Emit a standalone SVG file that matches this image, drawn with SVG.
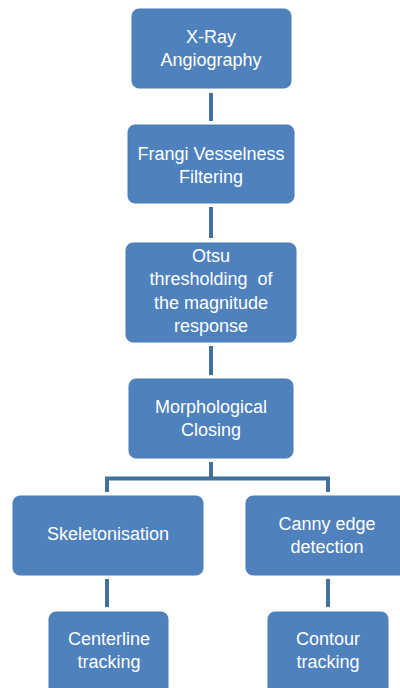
<svg xmlns="http://www.w3.org/2000/svg" width="400" height="688" viewBox="0 0 400 688">
  <style>
    .box { fill: #4f81bd; stroke: #4a7ab4; stroke-width: 1; }
    .lbl { font-family: "Liberation Sans", Arial, sans-serif; font-size: 18px; fill: #ffffff; text-anchor: middle; }
    .conn { fill: none; stroke: #41719c; stroke-width: 4; stroke-linecap: butt; }
  </style>
  <rect width="400" height="688" fill="#ffffff"/>
  <g id="connectors">
    <line class="conn" x1="211" y1="93" x2="211" y2="121"/>
    <line class="conn" x1="211" y1="207" x2="211" y2="238"/>
    <line class="conn" x1="211" y1="346" x2="211" y2="375"/>
    <path class="conn" d="M211,462 V478.5 M107,492 V478.5 H328 V492"/>
    <line class="conn" x1="107" y1="579" x2="107" y2="607"/>
    <line class="conn" x1="328" y1="579" x2="328" y2="607"/>
  </g>
  <g id="xray">
    <rect class="box" x="132" y="9" width="159" height="79" rx="7"/>
    <text class="lbl" x="211" y="43">X-Ray</text>
    <text class="lbl" x="211" y="66">Angiography</text>
  </g>
  <g id="frangi">
    <rect class="box" x="128" y="125" width="166" height="78" rx="7"/>
    <text class="lbl" x="211" y="160">Frangi Vesselness</text>
    <text class="lbl" x="211" y="183">Filtering</text>
  </g>
  <g id="otsu">
    <rect class="box" x="126" y="243" width="170" height="99" rx="7"/>
    <text class="lbl" x="211" y="262">Otsu</text>
    <text class="lbl" x="211" y="285" style="white-space:pre">thresholding  of</text>
    <text class="lbl" x="211" y="309">the magnitude</text>
    <text class="lbl" x="211" y="332">response</text>
  </g>
  <g id="closing">
    <rect class="box" x="129" y="379" width="164" height="79" rx="7"/>
    <text class="lbl" x="211" y="413">Morphological</text>
    <text class="lbl" x="211" y="436">Closing</text>
  </g>
  <g id="skeleton">
    <rect class="box" x="13" y="496" width="190" height="79" rx="7"/>
    <text class="lbl" x="108" y="540">Skeletonisation</text>
  </g>
  <g id="canny">
    <rect class="box" x="246" y="496" width="162" height="79" rx="7"/>
    <text class="lbl" x="327" y="530">Canny edge</text>
    <text class="lbl" x="327" y="553">detection</text>
  </g>
  <g id="centerline">
    <rect class="box" x="49" y="612" width="119" height="90" rx="7"/>
    <text class="lbl" x="109" y="645">Centerline</text>
    <text class="lbl" x="109" y="668">tracking</text>
  </g>
  <g id="contour">
    <rect class="box" x="268" y="612" width="120" height="90" rx="7"/>
    <text class="lbl" x="328" y="645">Contour</text>
    <text class="lbl" x="328" y="668">tracking</text>
  </g>
</svg>
